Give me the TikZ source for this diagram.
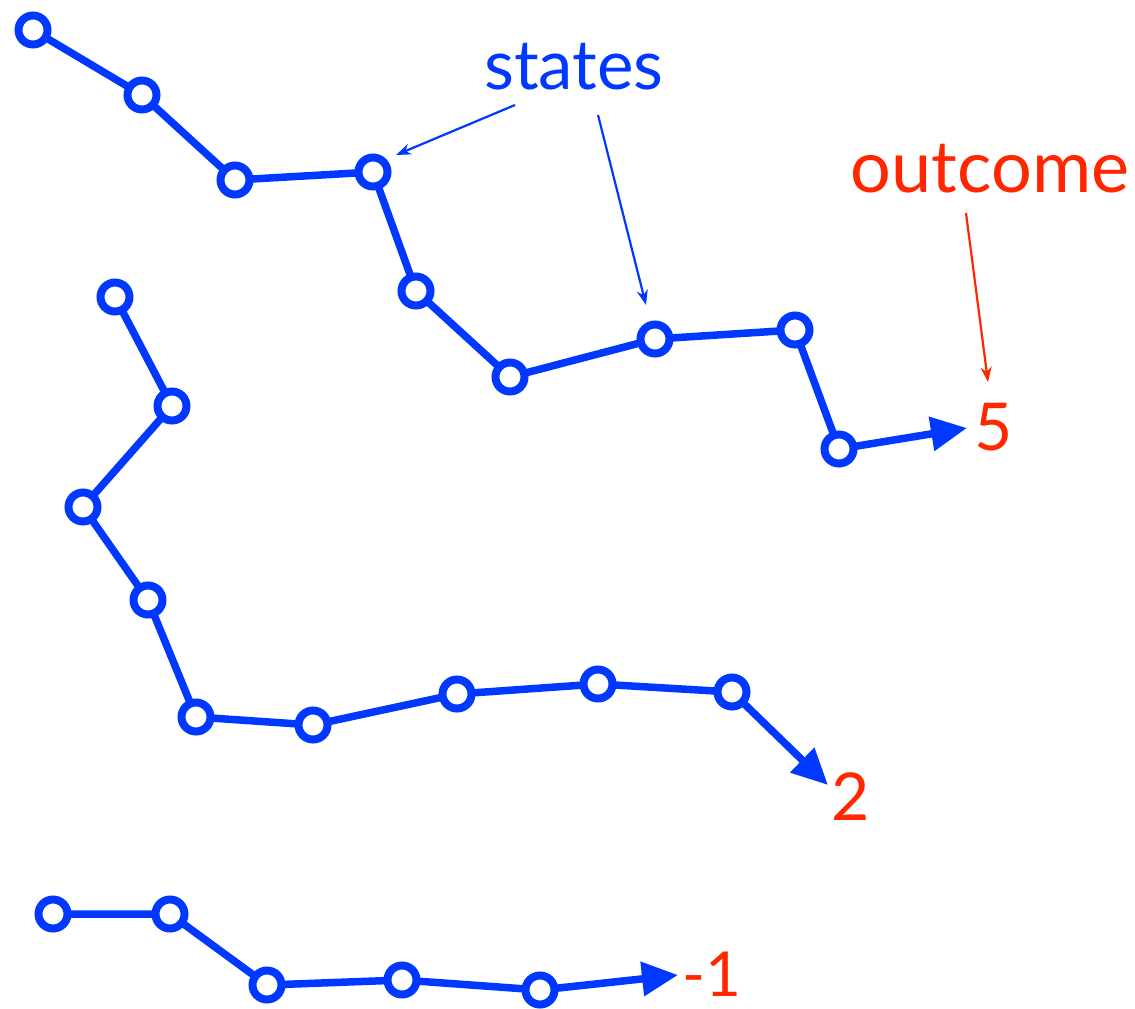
\documentclass[tikz,border=0pt]{standalone}
\usepackage{fontspec}
\setmainfont{Lato}
\usetikzlibrary{arrows.meta}
\definecolor{sblue}{RGB}{0,56,255}
\definecolor{sred}{RGB}{255,38,0}
\tikzset{
  st/.style={circle,draw=sblue,line width=8pt,fill=white,minimum size=29pt,inner sep=0pt},
  link/.style={draw=sblue,line width=7.5pt},
  fin/.style={link,-{Triangle[length=36pt,width=33pt]}},
  lbl/.style={text=sred,font=\fontsize{66}{66}\selectfont,inner sep=0pt,anchor=base},
  ann/.style={font=\fontsize{69}{69}\selectfont,inner sep=0pt,anchor=base},
  pointer/.style={line width=2.2pt,-{Stealth[length=15pt,width=11pt]}}
}
\begin{document}
\begin{tikzpicture}[x=1pt,y=-1pt]
\useasboundingbox (0,0) rectangle (1135,1009);
% path 1
\foreach \n/\x/\y in {a1/33/30,a2/142/95,a3/235/180,a4/373/172,a5/416/291,a6/510/377,a7/655/339,a8/795/330,a9/839/449}
  \coordinate (\n c) at (\x,\y);
\coordinate (a10) at (967,428);
\draw[link] (a1c)--(a2c)--(a3c)--(a4c)--(a5c)--(a6c)--(a7c)--(a8c)--(a9c);
\draw[fin] (a9c)--(a10);
\foreach \n in {a1,a2,a3,a4,a5,a6,a7,a8,a9} \node[st] (\n) at (\n c) {};
% path 2
\foreach \n/\x/\y in {b1/115/297,b2/172/406,b3/83/507,b4/148/600,b5/196/717,b6/313/725,b7/457/694,b8/598/684,b9/732/692}
  \coordinate (\n c) at (\x,\y);
\coordinate (b10) at (828,785);
\draw[link] (b1c)--(b2c)--(b3c)--(b4c)--(b5c)--(b6c)--(b7c)--(b8c)--(b9c);
\draw[fin] (b9c)--(b10);
\foreach \n in {b1,b2,b3,b4,b5,b6,b7,b8,b9} \node[st] (\n) at (\n c) {};
% path 3
\foreach \n/\x/\y in {c1/53/914,c2/170/914,c3/267/985,c4/402/980,c5/540/990}
  \coordinate (\n c) at (\x,\y);
\coordinate (c6) at (678,975);
\draw[link] (c1c)--(c2c)--(c3c)--(c4c)--(c5c);
\draw[fin] (c5c)--(c6);
\foreach \n in {c1,c2,c3,c4,c5} \node[st] (\n) at (\n c) {};
% outcomes
\node[lbl] (o5) at (994,450) {5};
\node[lbl] (o2) at (851,820) {2};
\node[lbl,font=\fontsize{62}{62}\selectfont] (o1) at (712,996) {-1};
% annotations
\node[ann,text=sblue] (states) at (574,89) {states};
\node[ann,text=sred,font=\fontsize{72}{72}\selectfont] (outcome) at (990,192) {outcome};
\coordinate (s1) at (515,105);
\coordinate (s1e) at (396,155);
\coordinate (s2) at (598,115);
\coordinate (s2e) at (646,305);
\coordinate (r1) at (966,213);
\coordinate (r1e) at (988,382);
\draw[pointer,draw=sblue,fill=sblue] (s1)--(s1e);
\draw[pointer,draw=sblue,fill=sblue] (s2)--(s2e);
\draw[pointer,draw=sred,fill=sred] (r1)--(r1e);
\end{tikzpicture}
\end{document}
